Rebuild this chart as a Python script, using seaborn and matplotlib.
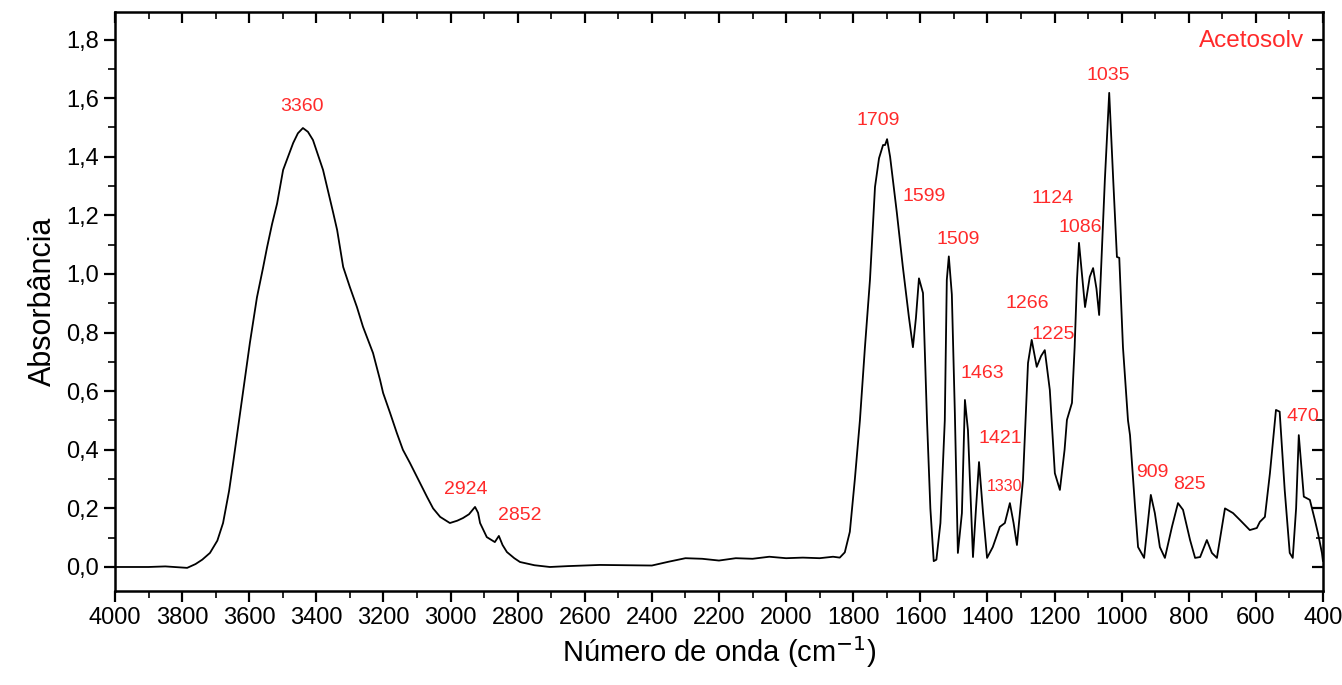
import matplotlib
matplotlib.use("Agg")
import matplotlib.pyplot as plt
import seaborn as sns
import pandas as pd
from matplotlib.ticker import MultipleLocator, FuncFormatter

wavenumber = [4000, 3900, 3850, 3800, 3785, 3760, 3740, 3717, 3695, 3678, 3660, 3648, 3618, 3598,
              3577, 3559, 3547, 3532, 3517, 3499, 3469, 3455, 3440, 3425, 3410, 3380, 3350, 3338, 3320, 3300,
              3279, 3261, 3231, 3210, 3201, 3180, 3160, 3142, 3121, 3091, 3070, 3052, 3031, 3002, 2980, 2963,
              2945, 2927, 2918, 2912, 2892, 2868, 2856, 2845, 2832, 2810, 2793, 2750, 2704, 2650, 2555, 2480,
              2400, 2350, 2300, 2250, 2200, 2150, 2100, 2050, 2000, 1950, 1900, 1860, 1840, 1825, 1810,
              1795, 1780, 1765, 1750, 1735, 1723, 1711, 1705, 1699, 1690, 1670, 1652, 1634, 1622,
              1613, 1604, 1592, 1580, 1570, 1560, 1552, 1540, 1527, 1521, 1515, 1506, 1497, 1488,
              1476, 1467, 1458, 1443, 1434, 1425, 1413, 1401, 1384, 1363, 1348, 1333, 1322, 1312,
              1294, 1279, 1268, 1253, 1240, 1229, 1214, 1199, 1184, 1170, 1163, 1148, 1140, 1133,
              1127, 1109, 1095, 1085, 1075, 1067, 1050, 1037, 1025, 1014, 1007, 996, 981, 975,
              960, 951, 933, 913, 901, 886, 871, 850, 832, 817, 796, 781, 766, 746, 731, 716,
              692, 668, 647, 618, 597, 588, 573, 558, 540, 529, 514, 499, 490, 480, 472, 457,
              439, 424, 415, 403, 400]
absorbance = [0.0, 0.0, 0.002, -0.002, -0.003, 0.01, 0.025, 0.048, 0.09, 0.15, 0.26, 0.355, 0.60, 0.765,
              0.92, 1.02, 1.09, 1.17, 1.24, 1.355, 1.447, 1.48, 1.498, 1.485, 1.457, 1.355, 1.21, 1.15, 1.024, 0.955,
              0.887, 0.82, 0.73, 0.638, 0.594, 0.525, 0.457, 0.40, 0.355, 0.287, 0.239, 0.20, 0.171, 0.15, 0.158, 0.167,
              0.18, 0.205, 0.185, 0.15, 0.102, 0.085, 0.106, 0.075, 0.051, 0.03, 0.017, 0.006, 0.0, 0.003, 0.007, 0.006,
              0.005, 0.018, 0.03, 0.028, 0.022, 0.03, 0.028, 0.035, 0.03, 0.032, 0.03, 0.035, 0.032, 0.05, 0.12,
              0.3, 0.50, 0.75, 0.98, 1.297, 1.395, 1.44, 1.44, 1.46, 1.40, 1.21, 1.024, 0.853, 0.75,
              0.85, 0.985, 0.935, 0.50, 0.2, 0.02, 0.025, 0.15, 0.50, 0.98, 1.06, 0.93, 0.525, 0.048,
              0.184, 0.57, 0.467, 0.034, 0.2, 0.358, 0.184, 0.031, 0.068, 0.137, 0.15, 0.218, 0.15, 0.075,
              0.297, 0.696, 0.775, 0.683, 0.72, 0.74, 0.604, 0.32, 0.263, 0.40, 0.502, 0.56, 0.75, 0.98,
              1.106, 0.887, 0.99, 1.02, 0.95, 0.86, 1.32, 1.618, 1.32, 1.058, 1.055, 0.75, 0.50, 0.45,
              0.205, 0.068, 0.031, 0.246, 0.184, 0.068, 0.031, 0.137, 0.218, 0.195, 0.092, 0.031, 0.034, 0.092, 0.048, 0.031,
              0.2, 0.184, 0.16, 0.126, 0.133, 0.154, 0.171, 0.32, 0.536, 0.53, 0.263, 0.048, 0.031, 0.2, 0.45, 0.24,
              0.229, 0.16, 0.116, 0.048, 0.02]

peak_labels = ["3360", "2924", "2852", "1709", "1599", "1509", "1463", "1421", "1330",
               "1266", "1225", "1124", "1086", "1035", "909", "825", "470"]
label_x = [3443, 2954, 2793, 1726, 1589, 1488, 1416, 1362, 1350,
           1282, 1205, 1205, 1122, 1041, 909, 799, 459]
label_y = [1.573, 0.266, 0.177, 1.522, 1.266, 1.116, 0.662, 0.437, 0.273,
           0.898, 0.795, 1.259, 1.16, 1.676, 0.324, 0.28, 0.515]

sns.set_style("ticks")
plt.rcParams['font.family'] = ['Liberation Sans', 'DejaVu Sans']

df = pd.DataFrame({"wn": wavenumber, "abs": absorbance})

fig = plt.figure(figsize=(13.42, 6.85), dpi=100)
ax = fig.add_axes([0.0857, 0.1372, 0.9001, 0.8453])
sns.lineplot(data=df, x="wn", y="abs", ax=ax, color="black", linewidth=1.3, sort=False)

ax.set_xlim(4000, 400)
ax.set_ylim(-0.082, 1.894)
ax.xaxis.set_major_locator(MultipleLocator(200))
ax.xaxis.set_minor_locator(MultipleLocator(100))
ax.yaxis.set_major_locator(MultipleLocator(0.2))
ax.yaxis.set_minor_locator(MultipleLocator(0.1))
ax.yaxis.set_major_formatter(FuncFormatter(lambda v, p: f"{v:.1f}".replace(".", ",").replace("-0,0", "0,0")))
ax.xaxis.set_major_formatter(FuncFormatter(lambda v, p: f"{int(round(v))}"))

for s in ax.spines.values():
    s.set_linewidth(1.8)
    s.set_color("black")
    s.set_visible(True)

ax.tick_params(axis="both", which="major", direction="out", length=8, width=1.6,
               labelsize=17, colors="black", labelcolor="black")
ax.tick_params(axis="both", which="minor", direction="out", length=5, width=1.4)
ax.tick_params(top=True, right=True, which="both")
for t in ax.xaxis.get_major_ticks() + ax.xaxis.get_minor_ticks():
    t.tick2line.set_marker(matplotlib.lines.TICKDOWN)
for t in ax.yaxis.get_major_ticks() + ax.yaxis.get_minor_ticks():
    t.tick2line.set_marker(matplotlib.lines.TICKLEFT)

ax.set_xlabel("Número de onda (cm$^{-1}$)", fontsize=21, labelpad=4, color="black")
ax.set_ylabel("Absorbância", fontsize=22, labelpad=6, color="black")

for lab, lx, ly in zip(peak_labels, label_x, label_y):
    fs = 11.5 if lab == "1330" else 14
    ax.text(lx, ly, lab, color="#ff2a2a", fontsize=fs, ha="center", va="center")

ax.text(0.984, 0.95, "Acetosolv", transform=ax.transAxes, color="#ff2a2a",
        fontsize=17.5, ha="right", va="center")

fig.savefig("out.png", dpi=100)
